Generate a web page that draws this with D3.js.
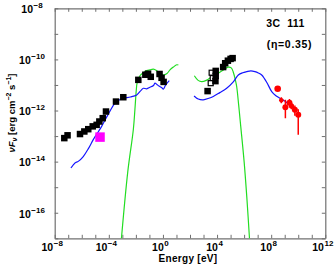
<!DOCTYPE html>
<html><head><meta charset="utf-8">
<script src="https://cdn.jsdelivr.net/npm/d3@7"></script>
<style>body{margin:0;background:#fff} text{font-weight:bold}</style>
</head><body>
<svg id="c" width="335" height="267"></svg>
<script>
// ---- data (log10 values) ----
const xLabelExps = [-8, -4, 0, 4, 8, 12];
const yLabelExps = [-8, -10, -12, -14, -16];

// radio / IR / optical filled squares: [log10 E(eV), log10 nuFnu]
const lowFilledE = [-7.29, -7.05, -6.13, -5.81, -5.52, -5.19, -4.90, -4.70, -4.45, -4.21, -3.47, -2.93, -1.82, -1.30, -1.10, -0.90, -0.25, -0.10, 0.05];
const lowFilledF = [-13.08, -12.97, -12.92, -12.82, -12.73, -12.62, -12.56, -12.43, -12.30, -12.04, -11.65, -11.48, -10.80, -10.60, -10.56, -10.68, -10.57, -10.72, -10.88];

// magenta square
const magentaE = [-4.65];
const magentaF = [-13.04];

// X-ray filled squares
const xrayFilledE = [3.30, 3.90, 3.90, 3.88, 4.45, 4.60, 4.80, 5.00, 5.15];
const xrayFilledF = [-11.24, -10.45, -10.65, -10.85, -10.30, -10.15, -10.05, -9.98, -9.95];
// X-ray open squares
const xrayOpenE = [3.60, 3.68, 3.53];
const xrayOpenF = [-10.52, -10.73, -10.93];

// gamma-ray red points
const gamE = [8.48, 8.75, 9.05, 9.35, 9.50, 9.75, 10.00];
const gamF = [-11.15, -11.60, -11.87, -11.70, -11.82, -11.97, -12.17];
const gamFlo = [-11.15, -11.72, -12.30, -11.85, -11.95, -12.20, -12.95];
const gamFhi = [-11.15, -11.48, -11.58, -11.55, -11.70, -11.80, -11.95];
const gamR = [3.3, 2.2, 3, 3, 2.6, 3, 3];

// blue model curve (two pieces)
const blueLowE = [-6.80, -6.50, -6.26, -5.89, -5.50, -5.15, -4.80, -4.53, -4.10, -3.54, -3.20, -2.93, -2.40, -1.94, -1.60, -1.45, -1.20, -0.96, -0.70, -0.59, -0.45, -0.30, -0.10, 0.03, 0.20, 0.47];
const blueLowF = [-14.25, -14.05, -13.99, -13.80, -13.48, -13.14, -12.85, -12.62, -12.20, -11.71, -11.58, -11.52, -11.47, -11.39, -11.20, -11.13, -11.15, -11.09, -11.02, -10.93, -10.98, -11.04, -11.10, -11.16, -11.00, -10.83];
const blueHighE = [2.30, 2.61, 2.98, 3.40, 3.72, 4.20, 4.71, 5.20, 5.57, 5.90, 6.19, 6.50, 6.80, 7.05, 7.30, 7.50, 7.71, 8.04, 8.35, 8.65, 9.00, 9.40, 9.89];
const blueHighF = [-11.43, -11.55, -11.58, -11.52, -11.45, -11.30, -11.13, -10.88, -10.61, -10.52, -10.48, -10.45, -10.48, -10.53, -10.61, -10.75, -10.93, -11.26, -11.42, -11.52, -11.63, -11.78, -11.97];

// green model curve (two pieces)
const greenLowE = [-3.10, -2.60, -2.19, -2.07, -1.97, -1.90, -1.70, -1.45, -1.20, -0.96, -0.71, -0.46, -0.22, 0.03, 0.30, 0.52, 0.77, 1.02, 1.14];
const greenLowF = [-17.20, -14.40, -12.75, -11.95, -11.20, -10.90, -10.64, -10.52, -10.44, -10.41, -10.38, -10.44, -10.54, -10.61, -10.55, -10.41, -10.30, -10.21, -10.22];
const greenHighE = [2.32, 2.60, 2.86, 3.20, 3.72, 4.20, 4.46, 4.83, 5.05, 5.20, 5.35, 5.45, 5.60, 5.75, 6.00, 6.20, 6.42];
const greenHighF = [-10.64, -10.82, -10.87, -10.82, -10.64, -10.50, -10.41, -10.30, -10.33, -10.50, -10.80, -11.06, -11.80, -12.62, -14.00, -15.40, -17.20];

// ---- layout ----
const svg = d3.select("#c");
const L = 54.7, R = 325.3, T = 8.3, B = 238.3;
const x = d3.scaleLog().domain([1e-8, 1e12]).range([L, R]);
const y = d3.scaleLog().domain([1e-17, 1e-8]).range([B, T]);
const X = e => x(Math.pow(10, e));
const Y = f => y(Math.pow(10, f));
const frame = "#707070";
const font = "'Liberation Sans', Arial, sans-serif";

svg.append("defs").append("clipPath").attr("id", "clip")
  .append("rect").attr("x", L).attr("y", T).attr("width", R - L).attr("height", B - T);

// axes with inward decade ticks
const xDec = d3.range(-8, 13).map(e => Math.pow(10, e));
const yDec = d3.range(-17, -7).map(e => Math.pow(10, e));
function styleAxis(g) {
  g.selectAll("path").attr("stroke", frame).attr("stroke-width", 1.2);
  g.selectAll("line").attr("stroke", frame).attr("stroke-width", 1);
  g.selectAll("text").remove();
}
svg.append("g").attr("transform", `translate(0,${B})`)
  .call(d3.axisBottom(x).tickValues(xDec).tickSize(-3.5).tickSizeOuter(0).tickFormat("")).call(styleAxis);
svg.append("g").attr("transform", `translate(0,${T})`)
  .call(d3.axisTop(x).tickValues(xDec).tickSize(-3.5).tickSizeOuter(0).tickFormat("")).call(styleAxis);
svg.append("g").attr("transform", `translate(${L},0)`)
  .call(d3.axisLeft(y).tickValues(yDec).tickSize(-3.5).tickSizeOuter(0).tickFormat("")).call(styleAxis);
svg.append("g").attr("transform", `translate(${R},0)`)
  .call(d3.axisRight(y).tickValues(yDec).tickSize(-3.5).tickSizeOuter(0).tickFormat("")).call(styleAxis);

// tick labels
function powLabel(g, px, py, e) {
  const t = g.append("text").attr("x", px).attr("y", py)
    .attr("text-anchor", "middle").attr("font-family", font).attr("fill", "#000");
  t.append("tspan").attr("font-size", 10.5).text("10");
  t.append("tspan").attr("font-size", 8).attr("dy", -5).attr("dx", 0.5)
    .text(e < 0 ? "\u2212" + (-e) : String(e));
}
const lab = svg.append("g");
xLabelExps.forEach(e => powLabel(lab, X(e) - 2.5, 250.5, e));
yLabelExps.forEach(e => powLabel(lab, 32, Y(e) + 4.8, e));

// axis titles
svg.append("text").attr("x", 188).attr("y", 262).attr("text-anchor", "middle")
  .attr("font-family", font).attr("font-size", 10).attr("letter-spacing", 0.3).text("Energy [eV]");
const yt = svg.append("text").attr("transform", "translate(15,113) rotate(-90)")
  .attr("text-anchor", "middle").attr("font-family", font).attr("font-size", 9.5);
yt.append("tspan").attr("font-style", "italic").text("\u03BDF");
yt.append("tspan").attr("font-style", "italic").attr("font-size", 7).attr("dy", 2).text("\u03BD");
yt.append("tspan").attr("dy", -2).text(" [erg cm");
yt.append("tspan").attr("font-size", 7).attr("dy", -4).text("\u22122");
yt.append("tspan").attr("dy", 4).text(" s");
yt.append("tspan").attr("font-size", 7).attr("dy", -4).text("\u22121");
yt.append("tspan").attr("dy", 4).text("]");

// annotations
svg.append("text").attr("x", 285.5).attr("y", 27.3).attr("text-anchor", "middle")
  .attr("font-family", font).attr("font-size", 10.5).attr("letter-spacing", 0.4)
  .attr("xml:space", "preserve").text("3C  111");
svg.append("text").attr("x", 289.5).attr("y", 47.5).attr("text-anchor", "middle")
  .attr("font-family", font).attr("font-size", 10.5).attr("letter-spacing", 0.7).text("(\u03B7=0.35)");

// curves
const plot = svg.append("g").attr("clip-path", "url(#clip)");
const line = d3.line().x(d => X(d[0])).y(d => Y(d[1])).curve(d3.curveCatmullRom.alpha(0.5));
function curve(E, F, color) {
  plot.append("path").datum(E.map((e, i) => [e, F[i]])).attr("d", line)
    .attr("fill", "none").attr("stroke", color).attr("stroke-width", 1.2);
}
curve(greenLowE, greenLowF, "#22dd22");
curve(greenHighE, greenHighF, "#22dd22");
curve(blueLowE, blueLowF, "#1515ff");
curve(blueHighE, blueHighF, "#1515ff");

// squares
function squares(E, F, size, fill, stroke) {
  plot.append("g").selectAll("rect").data(E.map((e, i) => [e, F[i]])).join("rect")
    .attr("x", d => X(d[0]) - size / 2).attr("y", d => Y(d[1]) - size / 2)
    .attr("width", size).attr("height", size)
    .attr("fill", fill).attr("stroke", stroke).attr("stroke-width", stroke === "none" ? 0 : 1.2);
}
squares(lowFilledE, lowFilledF, 6.5, "#000", "none");
squares(magentaE, magentaF, 9.5, "#ff00ff", "none");
squares(xrayOpenE, xrayOpenF, 5, "#fff", "#000");
squares(xrayFilledE, xrayFilledF, 6.5, "#000", "none");

// gamma-ray points
const gp = plot.append("g");
const gd = gamE.map((e, i) => ({ e, f: gamF[i], lo: gamFlo[i], hi: gamFhi[i], r: gamR[i] }));
gp.selectAll("line.v").data(gd).join("line")
  .attr("x1", d => X(d.e)).attr("x2", d => X(d.e)).attr("y1", d => Y(d.lo)).attr("y2", d => Y(d.hi))
  .attr("stroke", "#ff0000").attr("stroke-width", 1.5);
gp.selectAll("line.h").data(gd.slice(1)).join("line")
  .attr("x1", d => X(d.e - 0.15)).attr("x2", d => X(d.e + 0.15)).attr("y1", d => Y(d.f)).attr("y2", d => Y(d.f))
  .attr("stroke", "#ff0000").attr("stroke-width", 1.5);
gp.selectAll("circle").data(gd).join("circle")
  .attr("cx", d => X(d.e)).attr("cy", d => Y(d.f)).attr("r", d => d.r).attr("fill", "#ff0000");
</script>
</body></html>
